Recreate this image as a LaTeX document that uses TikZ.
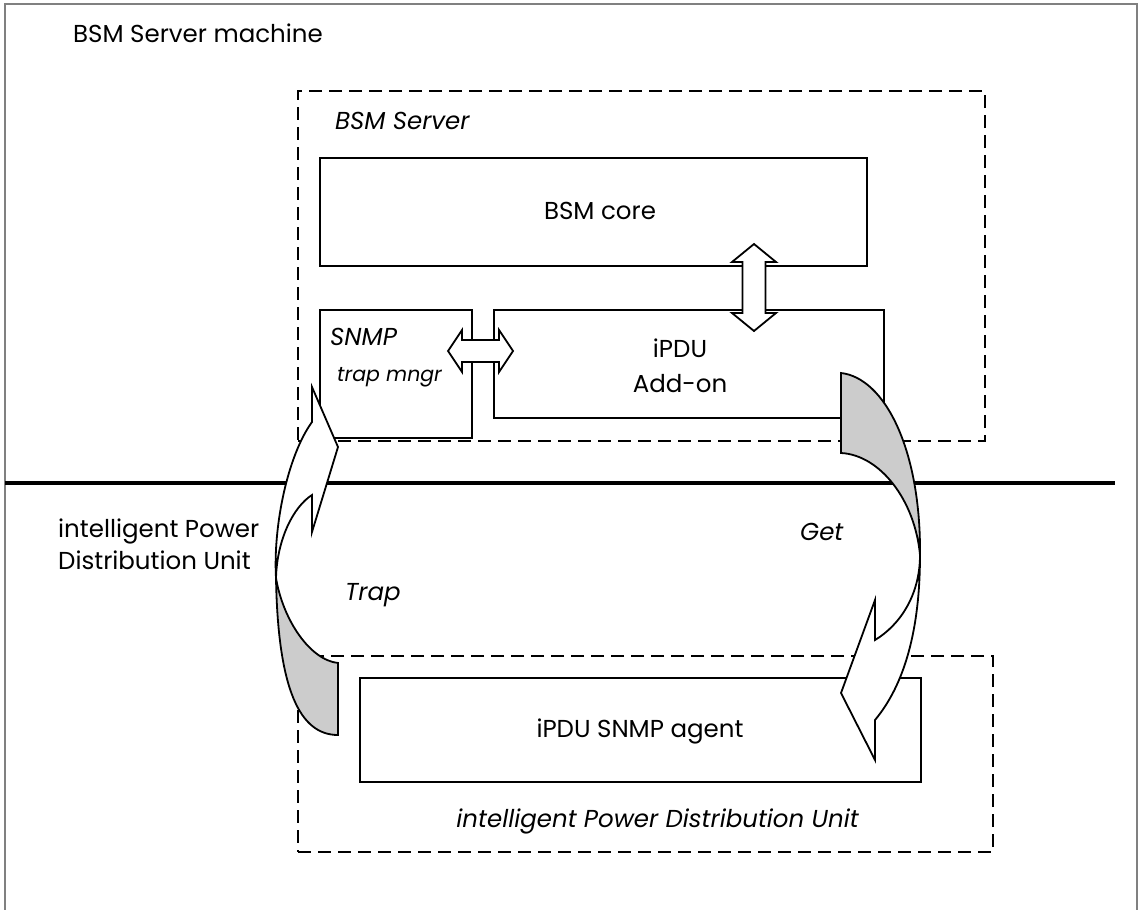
\documentclass[tikz,border=0pt]{standalone}
\usepackage{fontspec}
\setmainfont{Poppins}
\usetikzlibrary{positioning}

\begin{document}
\begin{tikzpicture}[x=1pt,y=-1pt,
        box/.style={draw,line width=1.8pt,fill=white,inner sep=0pt},
        zone/.style={draw,line width=1.6pt,dash pattern=on 13pt off 7pt,inner sep=0pt},
        lbl/.style={inner sep=0pt,font=\fontsize{24.5}{29}\selectfont},
        ilbl/.style={inner sep=0pt,font=\fontsize{24.5}{29}\selectfont\itshape},
        flow/.style={draw,line width=1.8pt,fill=white},
        twist/.style={draw,line width=1.8pt,fill=black!20}]
        \useasboundingbox (0,0) rectangle (1143,910);
        % frame and separator
        \draw[gray,line width=1.5pt] (5,910) |- (1137,4) -- (1137,910);
        \draw[line width=3.5pt] (5,483) -- (1115,483);
        % dashed zones
        \node[zone,minimum width=687pt,minimum height=350pt](server) at (641.5,266){};
        \node[zone,minimum width=695pt,minimum height=196pt](pdu) at (645.5,754){};
        % boxes
        \node[box,minimum width=547pt,minimum height=108pt](core) at (593.5,212){};
        \node[box,minimum width=152pt,minimum height=128pt](snmp) at (396,374){};
        \node[box,minimum width=390pt,minimum height=108pt](addon) at (689,364){};
        \node[box,minimum width=561pt,minimum height=104pt](agent) at (640.5,730){};
        % double arrows
        \draw[flow] (448,351) -- (462,330) -- (462,340) -- (499,340) -- (499,330) -- (513,351)
                -- (499,372) -- (499,362) -- (462,362) -- (462,372) -- cycle;
        \draw[flow] (754,244) -- (776,262) -- (765.5,262) -- (765.5,313) -- (776,313) -- (754,331)
                -- (732,313) -- (742.5,313) -- (742.5,262) -- (732,262) -- cycle;
        % trap arrow
        \draw[twist] (276,578) .. controls (278,690) and (300,735) .. (338,735) -- (338,663)
                .. controls (310,660) and (283,620) .. (276,578) -- cycle;
        \draw[flow] (312,422) .. controls (288,455) and (273,525) .. (276,578)
                .. controls (277,540) and (293,507) .. (312,495)
                -- (312,532) -- (338,447) -- (312,387) -- cycle;
        % get arrow
        \draw[twist] (841,373) .. controls (885,378) and (921,450) .. (920,555)
                .. controls (915,500) and (880,455) .. (841,453) -- cycle;
        \draw[flow] (920,555) .. controls (920,640) and (900,690) .. (875,720)
                -- (875,760) -- (841,693) -- (875,600) -- (875,640)
                .. controls (900,625) and (920,595) .. (920,555) -- cycle;
        % labels
        \node[lbl,anchor=base west](machine) at (73,42){BSM Server machine};
        \node[ilbl,anchor=base west](serverlbl) at (335,129){BSM Server};
        \node[lbl,anchor=base](corelbl) at (600,219){BSM core};
        \node[ilbl,anchor=base west](snmplbl) at (330,345){SNMP};
        \node[ilbl,anchor=base west,font=\fontsize{20.5}{24}\selectfont\itshape](mngrlbl) at (337,381){trap mngr};
        \node[lbl,anchor=base](ipdulbl) at (680,357){iPDU};
        \node[lbl,anchor=base](addonlbl) at (680,392){Add-on};
        \node[lbl,anchor=base west](unit1) at (58,537){intelligent Power};
        \node[lbl,anchor=base west](unit2) at (58,569){Distribution Unit};
        \node[ilbl,anchor=base west](traplbl) at (345,600){Trap};
        \node[ilbl,anchor=base west](getlbl) at (800,540){Get};
        \node[lbl](agentlbl) at (640,731){iPDU SNMP agent};
        \node[ilbl,anchor=base east](pdulbl) at (859,827){intelligent Power Distribution Unit};
\end{tikzpicture}
\end{document}
